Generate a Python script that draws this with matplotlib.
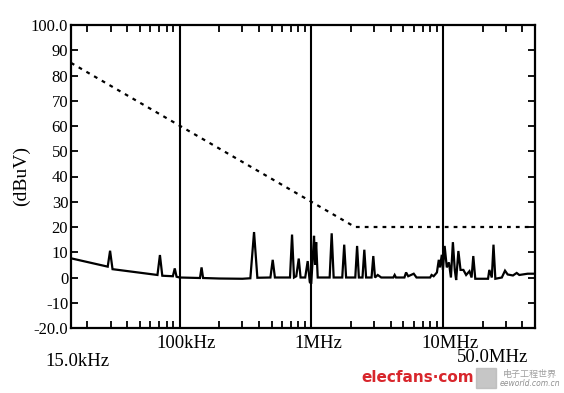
import matplotlib
matplotlib.use("Agg")
import matplotlib.pyplot as plt
import matplotlib.transforms as mtransforms
from matplotlib.patches import Rectangle

# Limit line (dBuV vs Hz)
limit_freq = [15e3, 2.15e6, 50e6]
limit_level = [85, 20, 20]

# Measured trace, frequencies in kHz
trace_khz = [15, 28.5, 29.7, 31.0, 68, 71, 74, 89, 92, 95, 100,
             143, 147, 151, 200, 300, 345, 368, 390, 490, 510, 530,
             690, 715, 740, 770, 804, 830, 900, 940, 975, 1000, 1030,
             1050, 1070, 1090, 1120, 1380, 1430, 1480, 1720, 1780, 1840,
             2160, 2230, 2300, 2450, 2530, 2610, 2870, 2960, 3050, 3200,
             3400, 4200, 4300, 4400, 5100, 5250, 5450, 6000, 6300, 8000,
             8200, 8500, 9000, 9300, 9500, 9800, 10000, 10300, 10700,
             11100, 11500, 11900, 12300, 12600, 13100, 13600, 14300,
             15000, 15900, 16500, 17000, 17600, 22000, 22500, 23500,
             24200, 25000, 28000, 29600, 31000, 34000, 36300, 38000,
             44000, 50000]
trace_db = [7.6, 4.3, 10.6, 3.3, 1.0, 8.9, 0.7, 0.5, 3.6, 0.3, 0.0,
            -0.2, 4.0, -0.2, -0.4, -0.5, -0.3, 18.0, -0.1, 0.0, 7.0, 0.0,
            0.0, 17.0, 0.0, 0.5, 7.5, 0.0, 0.0, 6.5, -1.8, -2.5, 9.0,
            16.5, 5.0, 14.0, 0.0, 0.0, 17.5, 0.0, 0.0, 13.0, 0.0,
            0.0, 12.5, 0.0, 0.0, 11.0, 0.0, 0.0, 8.5, 0.0, 1.0,
            0.0, 0.0, 1.0, 0.0, 0.0, 2.0, 0.5, 1.5, 0.0, 0.0,
            1.0, 0.5, 2.0, 7.0, 4.0, 9.0, 3.0, 12.5, 4.0,
            6.0, 0.0, 14.0, 3.0, -1.0, 10.5, 3.0, 3.0,
            1.0, 2.5, 0.0, 8.5, -0.5, -0.5, 3.0, 0.0,
            13.0, -0.5, 0.0, 2.7, 1.2, 0.8, 1.8, 1.0,
            1.5, 1.5]
trace_freq = [f * 1e3 for f in trace_khz]

decades = [1e5, 1e6, 1e7]
x_labels = ["100kHz", "1MHz", "10MHz"]
y_ticks = list(range(-20, 101, 10))
y_labels = ["-20.0"] + [str(v) for v in y_ticks[1:-1]] + ["100.0"]

serif = "Liberation Serif"

fig = plt.figure(figsize=(5.64, 3.93), dpi=100)
ax = fig.add_axes([71 / 564, 65 / 393, 464 / 564, 303 / 393])

ax.plot(trace_freq, trace_db, color="black", lw=1.6, solid_joinstyle="miter")
ax.plot(limit_freq, limit_level, color="black", lw=1.6, linestyle=(0, (1.7, 2.3)))
for d in decades:
    ax.axvline(d, color="black", lw=1.5)

ax.set_xscale("log")
ax.set_xlim(15e3, 50e6)
ax.set_ylim(-20, 100)

for s in ax.spines.values():
    s.set_linewidth(1.6)

ax.set_yticks(y_ticks)
ax.set_yticklabels(y_labels, fontfamily=serif, fontsize=12)
ax.tick_params(axis="y", direction="in", length=5, width=1.3, pad=2,
               right=True)
ax.set_xticks([])
ax.set_xticks([m * d for d in [1e4, 1e5, 1e6, 1e7] for m in range(2, 10)
               if 15e3 < m * d < 50e6], minor=True)
ax.tick_params(axis="x", which="minor", direction="in", length=5,
               width=1.3, top=True, labelbottom=False)

# x labels under the axes
off = mtransforms.ScaledTranslation(7 / 100, 0, fig.dpi_scale_trans)
trans = mtransforms.blended_transform_factory(ax.transData, fig.transFigure)
for d, lab in zip(decades, x_labels):
    ax.text(d, 1 - 344 / 393, lab, transform=trans + off, ha="center",
            va="center", fontfamily=serif, fontsize=13.5)
fig.text(77 / 564, 1 - 362 / 393, "15.0kHz", ha="center", va="center",
         fontfamily=serif, fontsize=13.5)
fig.text(493 / 564, 1 - 358 / 393, "50.0MHz", ha="center", va="center",
         fontfamily=serif, fontsize=13.5)

fig.text(21 / 564, 1 - 176 / 393, "(dBuV)", rotation=90, ha="center",
         va="center", fontfamily=serif, fontsize=14)

# watermark
fig.text(418 / 564, 1 - 378 / 393, "elecfans·com", ha="center", va="center",
         color="#d8262c", fontsize=11, fontweight="bold")
fig.patches.append(Rectangle((476 / 564, 1 - 388 / 393), 20 / 564, 20 / 393,
                             transform=fig.transFigure, color="#b8b8b8",
                             alpha=0.8))
fig.text(530 / 564, 1 - 374 / 393, "电子工程世界", ha="center", va="center",
         color="#a0a0a0", fontsize=6.5, family=["Noto Sans CJK SC", "DejaVu Sans"])
fig.text(530 / 564, 1 - 384 / 393, "eeworld.com.cn", ha="center", va="center",
         color="#909090", fontsize=5.5, style="italic")

fig.savefig("out.png", dpi=100)
